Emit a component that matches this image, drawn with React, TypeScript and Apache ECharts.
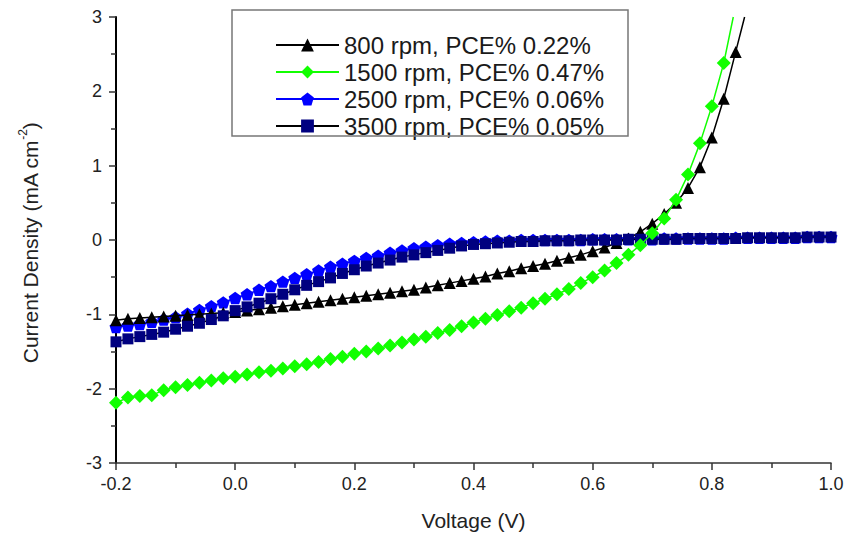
import React, { useEffect, useRef } from "react";
import * as echarts from "echarts";

const voltage = [
  -0.2, -0.18, -0.16, -0.14, -0.12, -0.1, -0.08, -0.06, -0.04, -0.02,
  0, 0.02, 0.04, 0.06, 0.08, 0.1, 0.12, 0.14, 0.16, 0.18,
  0.2, 0.22, 0.24, 0.26, 0.28, 0.3, 0.32, 0.34, 0.36, 0.38,
  0.4, 0.42, 0.44, 0.46, 0.48, 0.5, 0.52, 0.54, 0.56, 0.58,
  0.6, 0.62, 0.64, 0.66, 0.68, 0.7, 0.72, 0.74, 0.76, 0.78,
  0.8, 0.82, 0.84, 0.86, 0.88, 0.9, 0.92, 0.94, 0.96, 0.98, 1.0,
];

const seriesNames = [
  "800 rpm, PCE% 0.22%",
  "1500 rpm, PCE% 0.47%",
  "2500 rpm, PCE% 0.06%",
  "3500 rpm, PCE% 0.05%",
];

const rpm800 = [
  -1.08, -1.06, -1.05, -1.04, -1.03, -1.02, -1.01, -1.0, -0.99, -0.98,
  -0.97, -0.95, -0.93, -0.91, -0.89, -0.87, -0.85, -0.83, -0.81, -0.79,
  -0.77, -0.75, -0.73, -0.71, -0.69, -0.67, -0.64, -0.61, -0.58, -0.55,
  -0.52, -0.49, -0.45, -0.42, -0.38, -0.35, -0.32, -0.28, -0.24, -0.2,
  -0.15, -0.1, -0.04, 0.02, 0.11, 0.22, 0.35, 0.5, 0.7, 0.98,
  1.38, 1.9, 2.53,
];
const rpm800End = [0.855, 3.0];

const rpm1500 = [
  -2.19, -2.12, -2.1, -2.09, -2.02, -1.98, -1.95, -1.92, -1.89, -1.86,
  -1.84, -1.81, -1.78, -1.76, -1.73, -1.7, -1.67, -1.64, -1.6, -1.57,
  -1.53, -1.5, -1.46, -1.42, -1.38, -1.34, -1.3, -1.25, -1.21, -1.16,
  -1.11, -1.06, -1.01, -0.96, -0.91, -0.85, -0.79, -0.73, -0.66, -0.58,
  -0.5, -0.41, -0.31, -0.2, -0.07, 0.09, 0.29, 0.54, 0.88, 1.3,
  1.8, 2.38,
];
const rpm1500End = [0.836, 3.0];

const rpm2500 = [
  -1.17, -1.15, -1.13, -1.1, -1.07, -1.04, -0.99, -0.94, -0.89, -0.84,
  -0.78, -0.73, -0.67, -0.62, -0.56, -0.51, -0.46, -0.41, -0.36, -0.32,
  -0.28, -0.24, -0.21, -0.17, -0.14, -0.11, -0.09, -0.07, -0.05, -0.04,
  -0.03, -0.02, -0.01, -0.01,
  0.0, 0.0, 0.0, 0.0, 0.0, 0.0, 0.01, 0.01, 0.01, 0.01, 0.01, 0.01, 0.02, 0.02,
  0.02, 0.02, 0.02, 0.02, 0.03, 0.03, 0.03, 0.03, 0.03, 0.03, 0.04, 0.04, 0.04,
];

const rpm3500 = [
  -1.37, -1.33, -1.3, -1.27, -1.24, -1.2, -1.16, -1.12, -1.07, -1.02,
  -0.95, -0.9, -0.85, -0.79, -0.73, -0.67, -0.61, -0.56, -0.51, -0.45,
  -0.4, -0.35, -0.31, -0.27, -0.23, -0.2, -0.17, -0.14, -0.11, -0.08,
  -0.06, -0.05, -0.04, -0.03,
  -0.02, -0.02, -0.01, -0.01, -0.01, 0.0, 0.0, 0.0, 0.0, 0.01, 0.01, 0.01, 0.01,
  0.01, 0.02, 0.02, 0.02, 0.02, 0.02, 0.03, 0.03, 0.03, 0.03, 0.03, 0.04, 0.04, 0.04,
];

const xTickMin = -0.2;
const xTickMax = 1.0;
const yTickMin = -3;
const yTickMax = 3;

const FONT = "Liberation Sans, Arial, sans-serif";
const PENTAGON = "path://M10,0 L19.51,6.91 L15.88,18.09 L4.12,18.09 L0.49,6.91 Z";

function pairs(vals: number[], end?: number[]) {
  const out: any[] = vals.map((v, i) => [voltage[i], v]);
  if (end) out.push({ value: end, symbol: "none" });
  return out;
}

export default function App() {
  const ref = useRef<HTMLDivElement>(null);
  useEffect(() => {
    if (!ref.current) return;
    const chart = echarts.init(ref.current, undefined, { renderer: "svg" });
    const axisColor = "#333";
    const option: any = {
      animation: false,
      backgroundColor: "#fff",
      grid: { left: 116, right: 17, top: 17, bottom: 74, containLabel: false, outerBoundsMode: "none" },
      xAxis: {
        type: "value",
        min: xTickMin,
        max: xTickMax,
        interval: 0.2,
        axisLine: { onZero: false, lineStyle: { color: axisColor, width: 1.5 } },
        axisTick: { length: 7, lineStyle: { color: axisColor, width: 1.5 } },
        minorTick: { show: true, splitNumber: 2, length: 5, lineStyle: { color: axisColor, width: 1.5 } },
        splitLine: { show: false },
        minorSplitLine: { show: false },
        axisLabel: {
          formatter: (v: number) => v.toFixed(1),
          fontSize: 18,
          color: "#222",
          margin: 12,
          fontFamily: FONT,
        },
        name: "Voltage (V)",
        nameLocation: "middle",
        nameGap: 47,
        nameTextStyle: { fontSize: 21, color: "#222", fontFamily: FONT },
      },
      yAxis: {
        type: "value",
        min: yTickMin,
        max: yTickMax,
        interval: 1,
        axisLine: { onZero: false, lineStyle: { color: "#000", width: 2 } },
        axisTick: { length: 7, lineStyle: { color: axisColor, width: 1.5 } },
        minorTick: { show: true, splitNumber: 2, length: 5, lineStyle: { color: axisColor, width: 1.5 } },
        splitLine: { show: false },
        minorSplitLine: { show: false },
        axisLabel: {
          formatter: (v: number) => String(Math.round(v)),
          fontSize: 18,
          color: "#222",
          margin: 14,
          fontFamily: FONT,
        },
      },
      legend: {
        orient: "vertical",
        left: 275,
        top: 33,
        padding: 0,
        itemWidth: 63,
        itemHeight: 16,
        itemGap: 3,
        textStyle: { fontSize: 24, lineHeight: 23, color: "#1a1a1a", fontFamily: FONT },
        data: seriesNames,
      },
      graphic: [
        {
          type: "rect",
          shape: { x: 232, y: 10, width: 396, height: 126 },
          style: { fill: "none", stroke: "#777", lineWidth: 1.5 },
          z: 10,
        },
        {
          type: "text",
          x: 30,
          y: 243,
          rotation: Math.PI / 2,
          style: {
            text: "{a|Current Density (mA cm}{s|-2}{a|)}",
            align: "center",
            verticalAlign: "middle",
            fill: "#222",
            rich: {
              a: { fontSize: 21, lineHeight: 26, fontFamily: FONT, fill: "#222" },
              s: { fontSize: 12, lineHeight: 12, verticalAlign: "top", fontFamily: FONT, fill: "#222" },
            },
          },
        },
      ],
      series: [
        {
          name: seriesNames[0],
          type: "line",
          data: pairs(rpm800, rpm800End),
          symbol: "triangle",
          symbolSize: 12,
          itemStyle: { color: "#000" },
          lineStyle: { color: "#000", width: 1.5 },
          z: 3,
        },
        {
          name: seriesNames[2],
          type: "line",
          data: pairs(rpm2500),
          symbol: PENTAGON,
          symbolKeepAspect: true,
          symbolSize: 13,
          itemStyle: { color: "#0000ff" },
          lineStyle: { color: "#0000ff", width: 1.5 },
          z: 2,
        },
        {
          name: seriesNames[3],
          type: "line",
          data: pairs(rpm3500),
          symbol: "rect",
          symbolSize: 11,
          itemStyle: { color: "#000080" },
          lineStyle: { color: "#000", width: 1.5 },
          z: 3,
        },
        {
          name: seriesNames[1],
          type: "line",
          data: pairs(rpm1500, rpm1500End),
          symbol: "diamond",
          symbolSize: 14,
          itemStyle: { color: "#11ff00" },
          lineStyle: { color: "#11ff00", width: 1.5 },
          z: 4,
        },
      ],
    };
    chart.setOption(option);
    return () => chart.dispose();
  }, []);
  return (
    <div
      ref={ref}
      style={{ position: "absolute", left: 0, top: 0, width: 848, height: 537 }}
    />
  );
}
